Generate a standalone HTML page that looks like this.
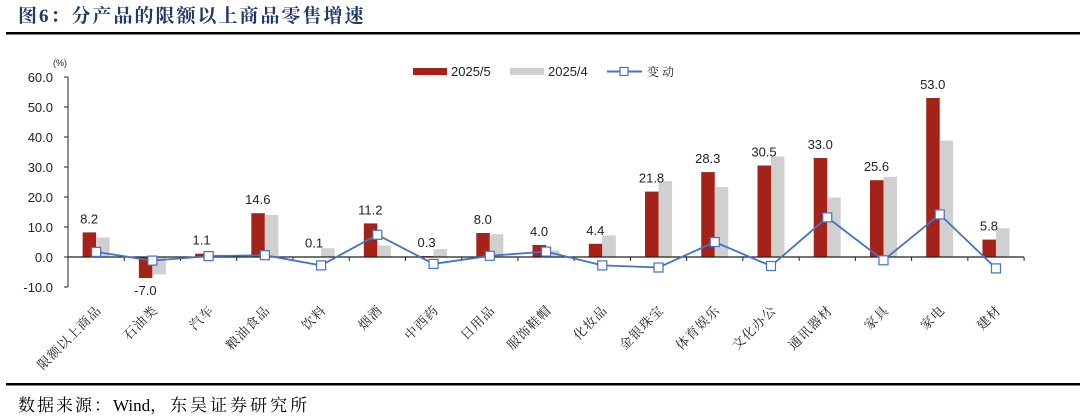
<!DOCTYPE html>
<html><head><meta charset="utf-8"><style>
html,body{margin:0;padding:0;background:#fff;}
svg{display:block}
</style></head><body>
<svg width="1080" height="418" xmlns="http://www.w3.org/2000/svg" font-family="Liberation Sans, sans-serif">
<text x="18" y="22" font-size="19" font-weight="bold" fill="#1f3864" letter-spacing="2" font-family="Liberation Serif, Noto Serif CJK SC, serif">图6：分产品的限额以上商品零售增速</text>
<rect x="6" y="32" width="1074" height="2.5" fill="#000"/>
<rect x="6" y="383" width="1074" height="2.5" fill="#000"/>
<text x="18" y="411" font-size="17" fill="#000" font-family="Liberation Serif, Noto Serif CJK SC, serif"><tspan letter-spacing="2">数据来源：</tspan><tspan>Wind</tspan><tspan letter-spacing="3">，东吴证券研究所</tspan></text>
<g id="chart"></g>
<rect x="413" y="68" width="34" height="7" fill="#a52219"/>
<text x="451" y="76" font-size="13" fill="#222">2025/5</text>
<rect x="510" y="68" width="34" height="7" fill="#d0d0d0"/>
<text x="548" y="76" font-size="13" fill="#222">2025/4</text>
<line x1="607" y1="71.5" x2="642" y2="71.5" stroke="#4472c4" stroke-width="2"/>
<rect x="620" y="67.5" width="8" height="8" fill="#fff" stroke="#4472c4" stroke-width="1.2"/>
<text x="647" y="76" font-size="12" fill="#222" letter-spacing="3" font-family="Noto Serif CJK SC, serif">变动</text>
<text x="53" y="66" font-size="9" fill="#222">(%)</text>
<script>
var g=document.getElementById('chart'),ns='http://www.w3.org/2000/svg';
function el(t,a,txt){var e=document.createElementNS(ns,t);for(var k in a)e.setAttribute(k,a[k]);if(txt!=null)e.textContent=txt;g.appendChild(e);return e;}
var x0=68,w=56.24,z=257,s=3;
var cats=['限额以上商品','石油类','汽车','粮油食品','饮料','烟酒','中西药','日用品','服饰鞋帽','化妆品','金银珠宝','体育娱乐','文化办公','通讯器材','家具','家电','建材'];
var a=[8.2,-7.0,1.1,14.6,0.1,11.2,0.3,8.0,4.0,4.4,21.8,28.3,30.5,33.0,25.6,53.0,5.8];
var b=[6.5,-5.8,0.8,14.0,2.9,3.8,2.6,7.6,2.2,7.2,25.3,23.3,33.5,19.8,26.7,38.8,9.6];
el('line',{x1:x0,y1:77,x2:x0,y2:287,stroke:'#222','stroke-width':1});
for(var v=-10;v<=60;v+=10){var y=z-v*s;el('line',{x1:x0-4,y1:y,x2:x0,y2:y,stroke:'#222'});el('text',{x:x0-15,y:y+5,'font-size':13,'text-anchor':'end',fill:'#222'},v.toFixed(1));}
for(var i=0;i<17;i++){
 var c=x0+(i+0.5)*w;
 var ya=z-Math.max(a[i],0)*s,ha=Math.abs(a[i])*s;
 el('rect',{x:c-13.5,y:ya,width:13.5,height:ha,fill:'#a52219'});
 var yb=z-Math.max(b[i],0)*s,hb=Math.abs(b[i])*s;
 el('rect',{x:c,y:yb,width:13.5,height:hb,fill:'#d0d0d0'});
 var ly=a[i]>=0? ya-9 : z+ha+17;
 el('text',{x:c-7,y:ly,'font-size':13,'text-anchor':'middle',fill:'#222'},a[i].toFixed(1));
 el('text',{x:0,y:0,'font-size':13,'text-anchor':'end','letter-spacing':1,fill:'#222','font-family':'Noto Serif CJK SC, serif',transform:'translate('+(c+6)+','+311+') rotate(-45)'},cats[i]);
}
el('line',{x1:x0,y1:z,x2:x0+17*w,y2:z,stroke:'#222','stroke-width':1.2});
for(var i=0;i<=17;i++){var x=x0+i*w;el('line',{x1:x,y1:z,x2:x,y2:z+4,stroke:'#222'});}
var pts=[];for(var i=0;i<17;i++)pts.push((x0+(i+0.5)*w)+','+(z-(a[i]-b[i])*s));
el('polyline',{points:pts.join(' '),fill:'none',stroke:'#4472c4','stroke-width':1.8});
for(var i=0;i<17;i++){var c=x0+(i+0.5)*w,y=z-(a[i]-b[i])*s;el('rect',{x:c-4.5,y:y-4.5,width:9,height:9,fill:'#fff',stroke:'#4472c4','stroke-width':1.2});}
</script>
</svg>
</body></html>
